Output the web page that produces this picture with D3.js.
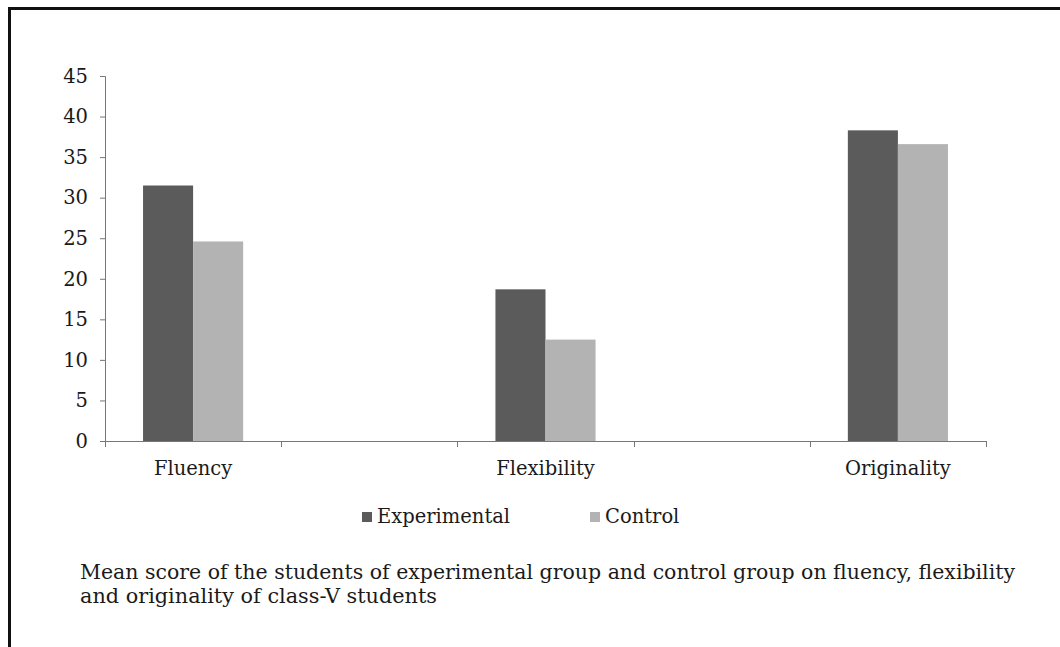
<!DOCTYPE html>
<html>
<head>
<meta charset="utf-8">
<script src="https://cdn.jsdelivr.net/npm/d3@7"></script>
<style>
  body { margin: 0; background: #fff; }
  text { font-family: "DejaVu Serif", serif; fill: #1a1a1a; }
</style>
</head>
<body>
<div id="chart"></div>
<script>
const categories = ["Fluency", "Flexibility", "Originality"];
const categorySlots = [0, 2, 4];   // empty slots between the groups on the axis
const slotCount = 5;
const experimental = [31.5, 18.7, 38.3];
const control = [24.6, 12.5, 36.6];
const seriesNames = ["Experimental", "Control"];
const seriesColors = ["#5b5b5b", "#b3b3b3"];
const yTicks = [0, 5, 10, 15, 20, 25, 30, 35, 40, 45];
const caption = [
    "Mean score of the students of experimental group and control group on fluency, flexibility",
    "and originality of class-V students"
];
const captionWidths = [935, 357];

const width = 1060, height = 647;
const plot = { left: 105, right: 986, top: 76, bottom: 441 };
const fontSize = 19.5;

const svg = d3.select("#chart")
    .append("svg")
    .attr("width", width)
    .attr("height", height);

svg.append("rect").attr("width", width).attr("height", height).attr("fill", "#fff");

// frame (top and left edges only)
svg.append("line").attr("x1", 8).attr("x2", width).attr("y1", 8.5).attr("y2", 8.5)
    .attr("stroke", "#111").attr("stroke-width", 3);
svg.append("line").attr("x1", 9.5).attr("x2", 9.5).attr("y1", 7).attr("y2", height)
    .attr("stroke", "#111").attr("stroke-width", 3);

// scales
const x = d3.scaleBand()
    .domain(d3.range(slotCount))
    .range([plot.left, plot.right])
    .padding(0);

const xSub = d3.scaleBand()
    .domain(seriesNames)
    .range([0, x.bandwidth()])
    .paddingInner(0)
    .paddingOuter(0.76);

const y = d3.scaleLinear()
    .domain([0, 45])
    .range([plot.bottom, plot.top]);

// y axis
const yAxis = svg.append("g")
    .attr("transform", `translate(${plot.left},0)`)
    .call(d3.axisLeft(y).tickValues(yTicks).tickSize(5).tickPadding(12));
yAxis.select(".domain").attr("stroke", "#777");
yAxis.selectAll(".tick line").attr("stroke", "#777");
yAxis.selectAll(".tick text")
    .attr("font-size", fontSize)
    .attr("font-family", "DejaVu Serif, serif")
    .attr("fill", "#1a1a1a");

// bars
const rows = categories.map((c, i) => ({
    slot: categorySlots[i],
    values: [experimental[i], control[i]]
}));

const groups = svg.append("g").selectAll("g")
    .data(rows)
    .join("g")
    .attr("transform", d => `translate(${x(d.slot)},0)`);

groups.selectAll("rect")
    .data(d => d.values.map((v, j) => ({ series: seriesNames[j], value: v, color: seriesColors[j] })))
    .join("rect")
    .attr("x", d => xSub(d.series))
    .attr("width", xSub.bandwidth())
    .attr("y", d => y(d.value))
    .attr("height", d => y(0) - y(d.value))
    .attr("fill", d => d.color);

// x axis: line with ticks on the slot boundaries
const boundaries = d3.range(slotCount).map(s => x(s)).concat([plot.right]);
svg.append("line")
    .attr("x1", plot.left - 5).attr("x2", plot.right)
    .attr("y1", y(0) + 0.5).attr("y2", y(0) + 0.5)
    .attr("stroke", "#777");
svg.append("g").selectAll("line")
    .data(boundaries)
    .join("line")
    .attr("x1", d => Math.round(d) + 0.5).attr("x2", d => Math.round(d) + 0.5)
    .attr("y1", y(0)).attr("y2", y(0) + 6)
    .attr("stroke", "#777");

svg.append("g").selectAll("text")
    .data(categories)
    .join("text")
    .attr("x", (d, i) => x(categorySlots[i]) + x.bandwidth() / 2)
    .attr("y", 475)
    .attr("text-anchor", "middle")
    .attr("font-size", fontSize)
    .text(d => d);

// legend
const legendX = [362, 590];
const legend = svg.append("g").selectAll("g")
    .data(seriesNames)
    .join("g")
    .attr("transform", (d, i) => `translate(${legendX[i]},512)`);
legend.append("rect")
    .attr("width", 10).attr("height", 10)
    .attr("fill", (d, i) => seriesColors[i]);
legend.append("text")
    .attr("x", 15).attr("y", 11)
    .attr("font-size", fontSize)
    .text(d => d);

// caption
svg.append("g").selectAll("text")
    .data(caption)
    .join("text")
    .attr("x", 80)
    .attr("y", (d, i) => 579 + i * 24)
    .attr("font-size", 20)
    .attr("textLength", (d, i) => captionWidths[i])
    .attr("lengthAdjust", "spacingAndGlyphs")
    .text(d => d);
</script>
</body>
</html>
